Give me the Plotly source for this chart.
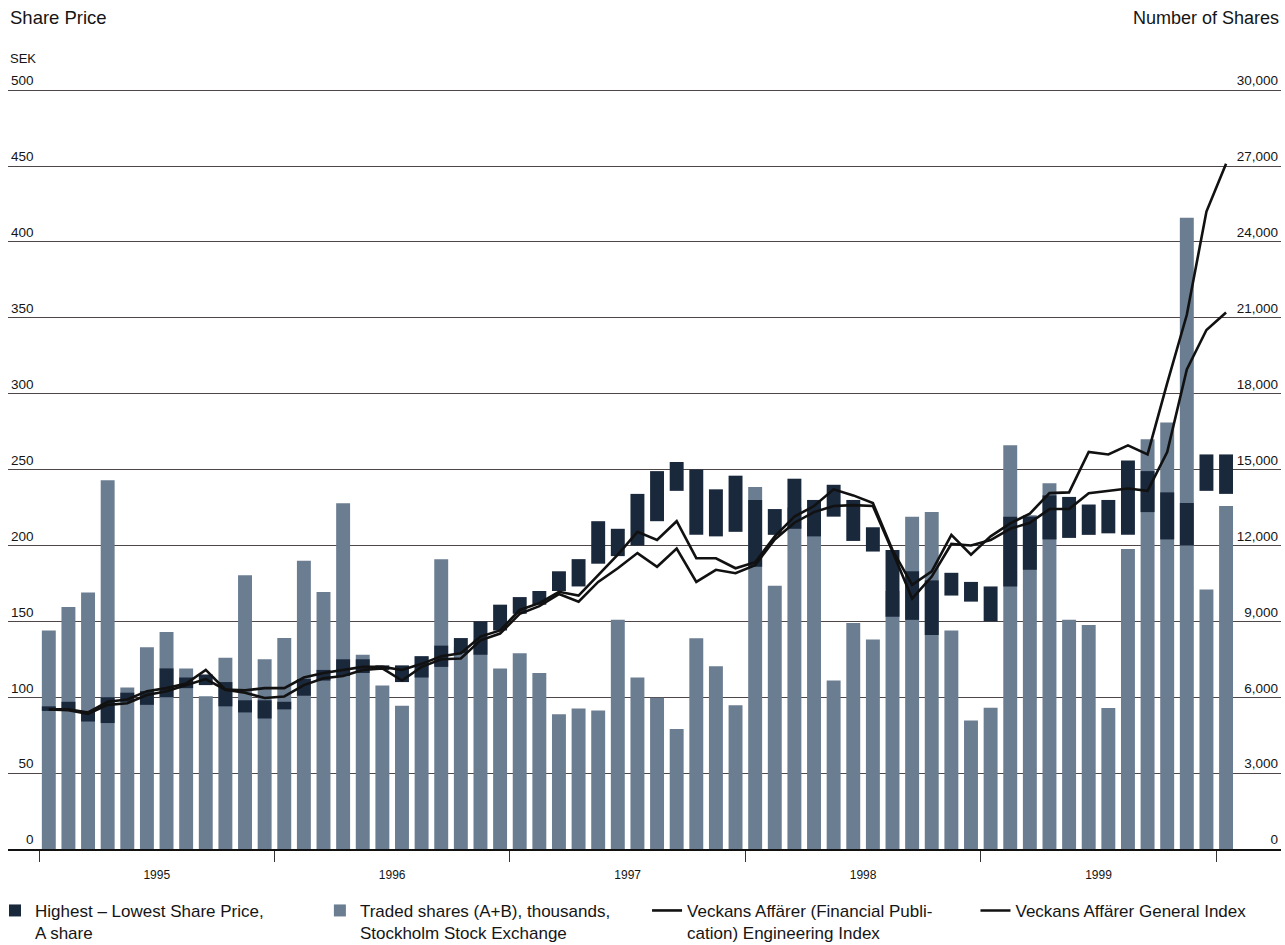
import plotly.graph_objects as go

# Calendar years on the time axis (one bar per month, Jan 1995 - Jan 2000)
years = ["1995", "1996", "1997", "1998", "1999"]

# Traded shares (A+B) on the Stockholm Stock Exchange, thousands per month
traded_shares = [
    8640, 9570, 10140, 14580, 6390, 7980, 8580, 7140, 6040, 7560,
    10820, 7500, 8340, 11400, 10160, 13670, 7680, 6460, 5660, 7620,
    11460, 7980, 8280, 7140, 7740, 6960, 5330, 5550, 5480, 9060,
    6780, 5980, 4740, 8330, 7230, 5680, 14310, 10410, 13500, 12900,
    6660, 8940, 8280, 10200, 13140, 13320, 8640, 5080, 5580, 15960,
    13200, 14460, 9060, 8860, 5570, 11860, 16200, 16860, 24960, 10260,
    13560,
]

# Monthly highest / lowest price of the A share, SEK
price_high = [
    94, 97, 91, 100, 103, 104, 119, 113, 115, 110,
    98, 98, 97, 112, 118, 125, 125, 121, 121, 127,
    134, 139, 150, 161, 166, 170, 183, 191, 216, 211,
    234, 249, 255, 250, 237, 246, 230, 224, 244, 230,
    240, 230, 212, 197, 183, 177, 182, 176, 173, 219,
    219, 233, 232, 227, 230, 256, 249, 235, 228, 260,
    260,
]
price_low = [
    91, 92, 84, 83, 97, 95, 100, 106, 108, 94,
    90, 86, 92, 101, 111, 114, 116, 118, 110, 113,
    120, 129, 128, 144, 155, 161, 170, 173, 188, 193,
    200, 216, 236, 207, 206, 209, 186, 207, 211, 206,
    219, 203, 196, 153, 151, 141, 167, 163, 150, 173,
    184, 204, 205, 207, 208, 207, 222, 204, 200, 236,
    234,
]

# Indices rebased to the share price scale (SEK)
engineering_index = [
    92, 91.5, 89, 95, 96, 101.5, 104, 108, 112, 105,
    103, 99.5, 100.5, 108, 112.5, 114, 118, 119, 111, 120,
    125, 125.5, 137.5, 142, 155, 160, 168, 163, 176, 185,
    195, 186, 198, 176, 184, 181.7, 187, 204, 215, 222,
    226, 226.6, 226, 196, 165, 179.5, 201, 200, 203.6, 211,
    215, 224, 224, 234.5, 236, 237.5, 236, 261.6, 316, 342,
    353.5,
]
general_index = [
    92, 92, 90, 97, 98.5, 104, 106, 109, 118, 105,
    104.5, 106, 106, 113, 116, 118, 120, 120, 118, 122,
    127, 129, 140, 144, 157.5, 162, 169.5, 167, 180.5, 194,
    209, 203.7, 216, 191.6, 191.6, 185, 189, 206, 219, 226,
    237, 233, 228, 197, 174, 183, 207, 194, 206, 214.6,
    221, 234.5, 235, 261.6, 260, 266, 260, 307, 352, 420,
    451.5,
]

price_ticks = list(range(0, 501, 50))
share_ticks = list(range(0, 30001, 3000))

# month positions: bar i sits in the middle of month i
month_pos = [i + 0.5 for i in range(len(traded_shares))]
year_mid = [12 * k + 6 for k in range(len(years))]
price_span = [h - l for h, l in zip(price_high, price_low)]

BAR_GREY = "#6b7d91"
NAVY = "#1a283c"
INK = "#151515"
GRID = "#4f4747"
SANS = "Liberation Sans, Arial, Helvetica, sans-serif"

# headroom above the top gridline so its label stays inside the plot
PRICE_MAX = 512
SHARES_PER_SEK = 60

fig = go.Figure()

fig.add_bar(
    x=month_pos, y=traded_shares, yaxis="y", width=0.71,
    marker=dict(color=BAR_GREY, line=dict(width=0)),
    name="Traded shares (A+B), thousands,<br>Stockholm Stock Exchange",
    legend="legend2",
)
fig.add_bar(
    x=month_pos, y=price_span, base=price_low, yaxis="y2", width=0.71,
    marker=dict(color=NAVY, line=dict(width=0)),
    name="Highest \u2013 Lowest Share Price,<br>A share",
    legend="legend",
)
fig.add_scatter(
    x=month_pos, y=engineering_index, yaxis="y2", mode="lines",
    line=dict(color="#111111", width=2.6),
    name="Veckans Aff\u00e4rer (Financial Publi-<br>cation) Engineering Index",
    legend="legend3",
)
fig.add_scatter(
    x=month_pos, y=general_index, yaxis="y2", mode="lines",
    line=dict(color="#111111", width=2.6),
    name="Veckans Aff\u00e4rer General Index",
    legend="legend4",
)

# pad the short price labels so they line up on the right like the 3-digit ones
price_text = [("\u2007" * (3 - len(str(v)))) + str(v) for v in price_ticks]


def legend_box(xpos):
    return dict(
        x=xpos, xanchor="left", y=-0.0565, yanchor="top",
        valign="top", font=dict(family=SANS, size=17, color=INK),
        itemwidth=30, bgcolor="rgba(0,0,0,0)",
    )


fig.update_layout(
    width=1285, height=945,
    margin=dict(l=8, r=4, t=72, b=96, autoexpand=False),
    paper_bgcolor="white", plot_bgcolor="white",
    barmode="overlay",
    font=dict(family=SANS, color=INK, size=12),
    xaxis=dict(
        range=[-1.58, 63.3],
        tickmode="array", tickvals=year_mid, ticktext=years,
        ticks="outside", ticklen=14, tickcolor="rgba(0,0,0,0)",
        tickfont=dict(family=SANS, size=12, color=INK),
        showgrid=False, zeroline=False,
        showline=True, linecolor="#111111", linewidth=2,
        minor=dict(tick0=0, dtick=12, ticks="outside", ticklen=11,
                   tickwidth=1, tickcolor="#333333", showgrid=False),
    ),
    yaxis=dict(
        range=[0, PRICE_MAX * SHARES_PER_SEK], side="right",
        tickmode="array", tickvals=share_ticks, tickformat=",d",
        ticklabelposition="inside top", ticks="",
        tickfont=dict(family=SANS, size=13.5, color=INK),
        showgrid=True, gridcolor=GRID, gridwidth=1, zeroline=False,
    ),
    yaxis2=dict(
        range=[0, PRICE_MAX], side="left", overlaying="y",
        tickmode="array", tickvals=price_ticks, ticktext=price_text,
        ticklabelposition="inside top", ticks="",
        tickfont=dict(family=SANS, size=13.5, color=INK),
        showgrid=False, zeroline=False,
    ),
    legend=legend_box(-0.0102),
    legend2=legend_box(0.245),
    legend3=legend_box(0.502),
    legend4=legend_box(0.760),
    annotations=[
        dict(text="Share Price", xref="paper", yref="paper", x=0, y=1.0695,
             xanchor="left", yanchor="middle", showarrow=False,
             font=dict(family=SANS, size=18.5, color=INK)),
        dict(text="SEK", xref="paper", yref="paper", x=0, y=1.018,
             xanchor="left", yanchor="middle", showarrow=False,
             font=dict(family=SANS, size=13, color=INK)),
        dict(text="Number of Shares", xref="paper", yref="paper", x=1, y=1.0695,
             xanchor="right", yanchor="middle", showarrow=False,
             font=dict(family=SANS, size=18, color=INK)),
    ],
    showlegend=True,
)

fig.write_html("out.html")
